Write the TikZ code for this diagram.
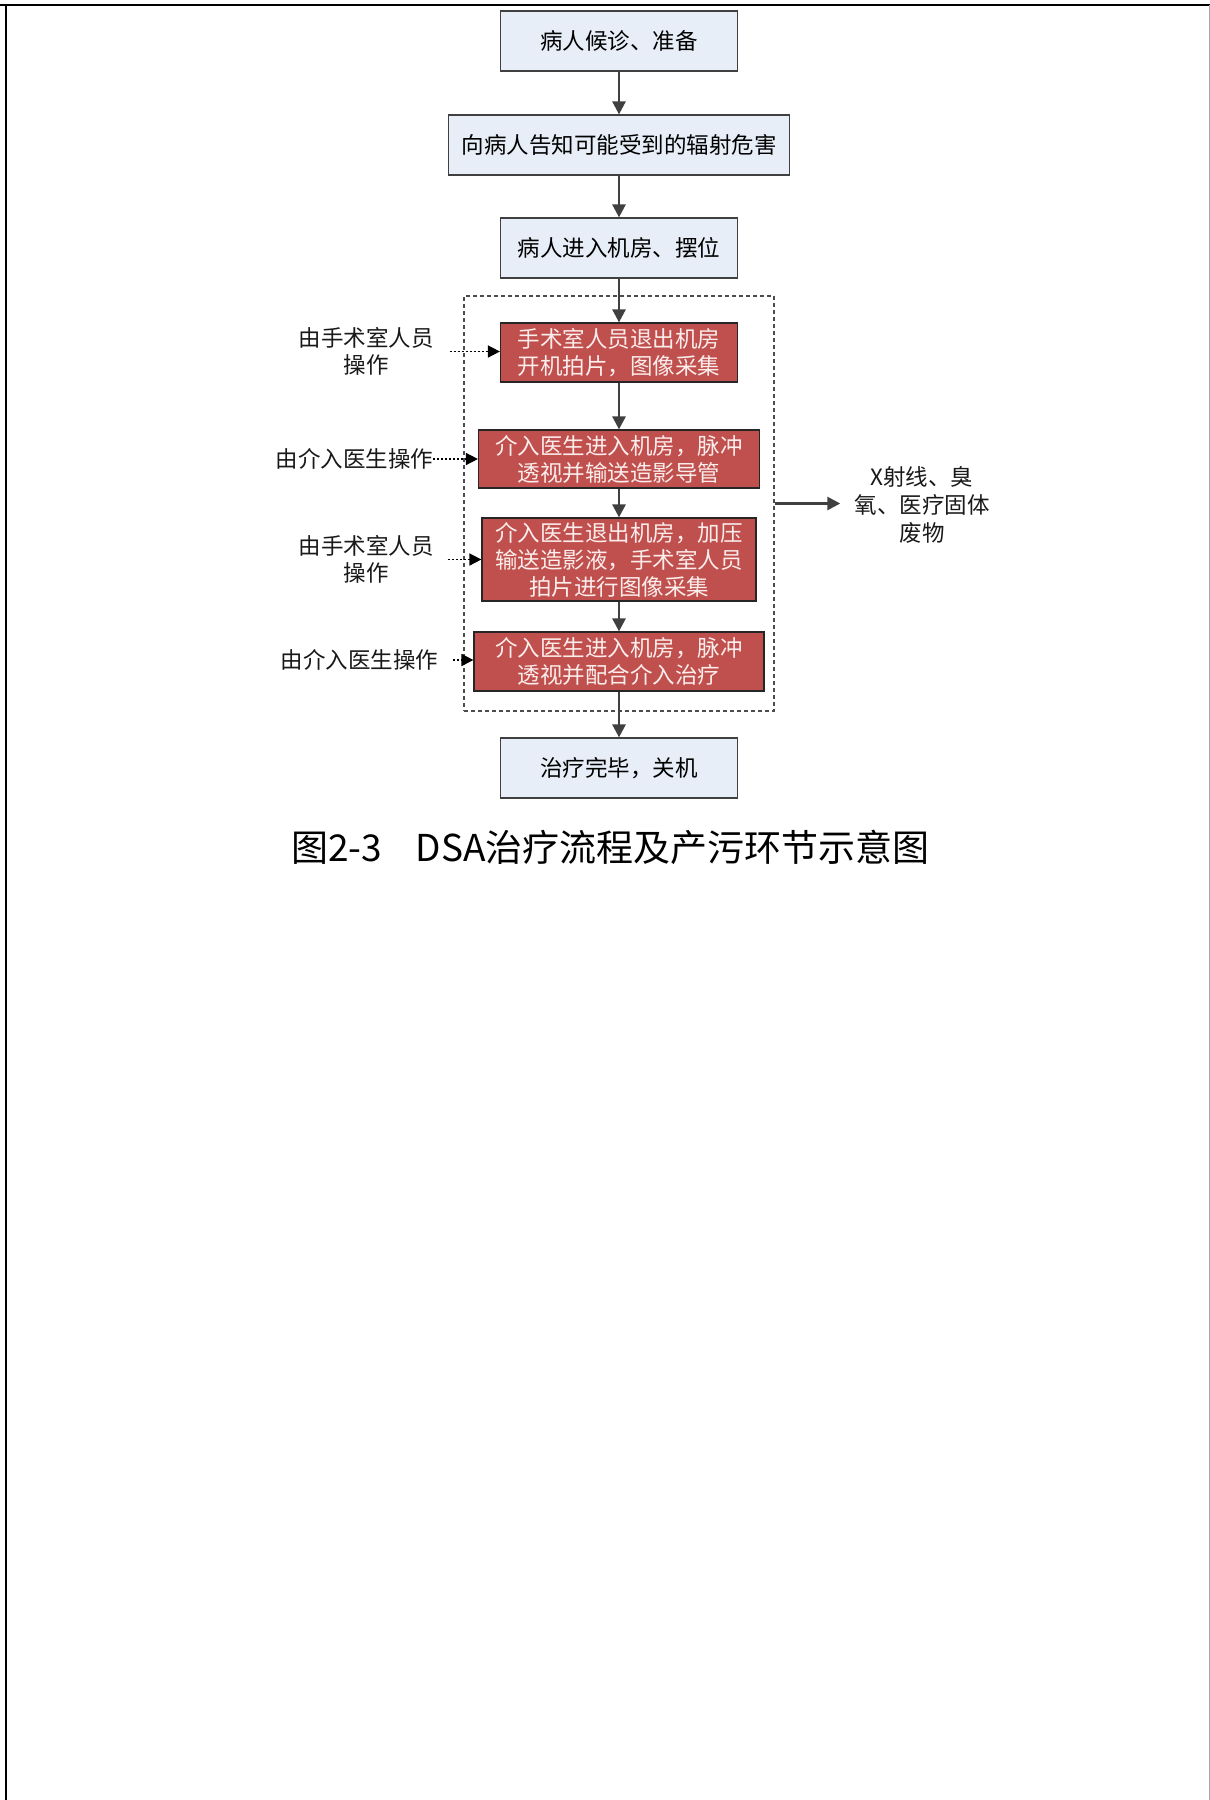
\documentclass[tikz,border=0pt]{standalone}
\usepackage{fontspec}
\setmainfont{Noto Sans CJK SC}
\usetikzlibrary{arrows.meta}
\definecolor{boxblue}{HTML}{E8EEF7}
\definecolor{boxred}{HTML}{C0504D}
\definecolor{linegray}{HTML}{404040}
\definecolor{redtext}{HTML}{FBEDEC}
\begin{document}
\begin{tikzpicture}[x=1pt,y=-1pt,
  txt/.style={font=\fontsize{22.5}{27}\selectfont, align=center, inner sep=0pt},
  bluebox/.style={txt, draw=linegray, fill=boxblue, line width=1.2pt, minimum height=60pt},
  redbox/.style={txt, draw=black!85, fill=boxred, text=redtext, line width=1.2pt},
  flow/.style={-{Triangle[length=13pt,width=13pt]}, draw=linegray, line width=2.6pt},
  opflow/.style={-{Triangle[length=12pt,width=12pt]}, black, line width=1.6pt, dash pattern=on 2pt off 2pt},
  lbl/.style={txt, text=black!90}]
\useasboundingbox (0,0) rectangle (1210,1800);
\fill[white] (0,0) rectangle (1210,1800);
% page frame
\draw[line width=2.2pt, black] (0,5) -- (1210,5);
\draw[line width=2.2pt, black] (6,5) -- (6,1800);
\draw[line width=1pt, black!35] (1209,5) -- (1209,1800);

% dashed group
\node[draw=black!70, line width=1.1pt, dash pattern=on 4pt off 3pt, minimum width=310pt, minimum height=415pt, inner sep=0pt] (grp) at (619,503.5) {};

% main boxes
\node[bluebox, minimum width=237pt] (b1) at (619,41) {病人候诊、准备};
\node[bluebox, minimum width=341pt] (b2) at (619,145) {向病人告知可能受到的辐射危害};
\node[bluebox, minimum width=237pt] (b3) at (619,248) {病人进入机房、摆位};
\node[redbox, minimum width=237pt, minimum height=59pt] (r1) at (619,352.5) {手术室人员退出机房\\开机拍片，图像采集};
\node[redbox, minimum width=281pt, minimum height=58pt] (r2) at (619,459) {介入医生进入机房，脉冲\\透视并输送造影导管};
\node[redbox, minimum width=274pt, minimum height=83pt] (r3) at (619,559.5) {介入医生退出机房，加压\\输送造影液，手术室人员\\拍片进行图像采集};
\node[redbox, minimum width=290pt, minimum height=59pt] (r4) at (619,661.5) {介入医生进入机房，脉冲\\透视并配合介入治疗};
\node[bluebox, minimum width=237pt] (b4) at (619,768) {治疗完毕，关机};

% side labels
\node[lbl] (l1) at (366,351.5) {由手术室人员\\操作};
\node[lbl] (l2) at (354.5,459) {由介入医生操作};
\node[lbl] (l3) at (366,559.5) {由手术室人员\\操作};
\node[lbl] (l4) at (359.5,660) {由介入医生操作};
\node[lbl, font=\fontsize{22.5}{28}\selectfont] (xr) at (922,504.5) {X射线、臭\\氧、医疗固体\\废物};

% caption
\node[inner sep=0pt, font=\fontsize{37}{40}\selectfont] (cap) at (610.5,847) {图2-3\hspace{34pt}DSA治疗流程及产污环节示意图};

% flow arrows
\draw[flow] (b1.south) -- (b2.north);
\draw[flow] (b2.south) -- (b3.north);
\draw[flow] (b3.south) -- (r1.north);
\draw[flow] (r1.south) -- (r2.north);
\draw[flow] (r2.south) -- (r3.north);
\draw[flow] (r3.south) -- (r4.north);
\draw[flow] (r4.south) -- (b4.north);
\draw[flow, shorten >=14pt] (grp.east) -- (grp.east -| xr.west);

% operator arrows
\draw[opflow] ([xshift=16pt]l1.east) -- (l1.east -| r1.west);
\draw[opflow] (l2.east) -- (l2.east -| r2.west);
\draw[opflow] ([xshift=14pt]l3.east) -- (l3.east -| r3.west);
\draw[opflow] ([xshift=15pt]l4.east) -- (l4.east -| r4.west);
\end{tikzpicture}
\end{document}
